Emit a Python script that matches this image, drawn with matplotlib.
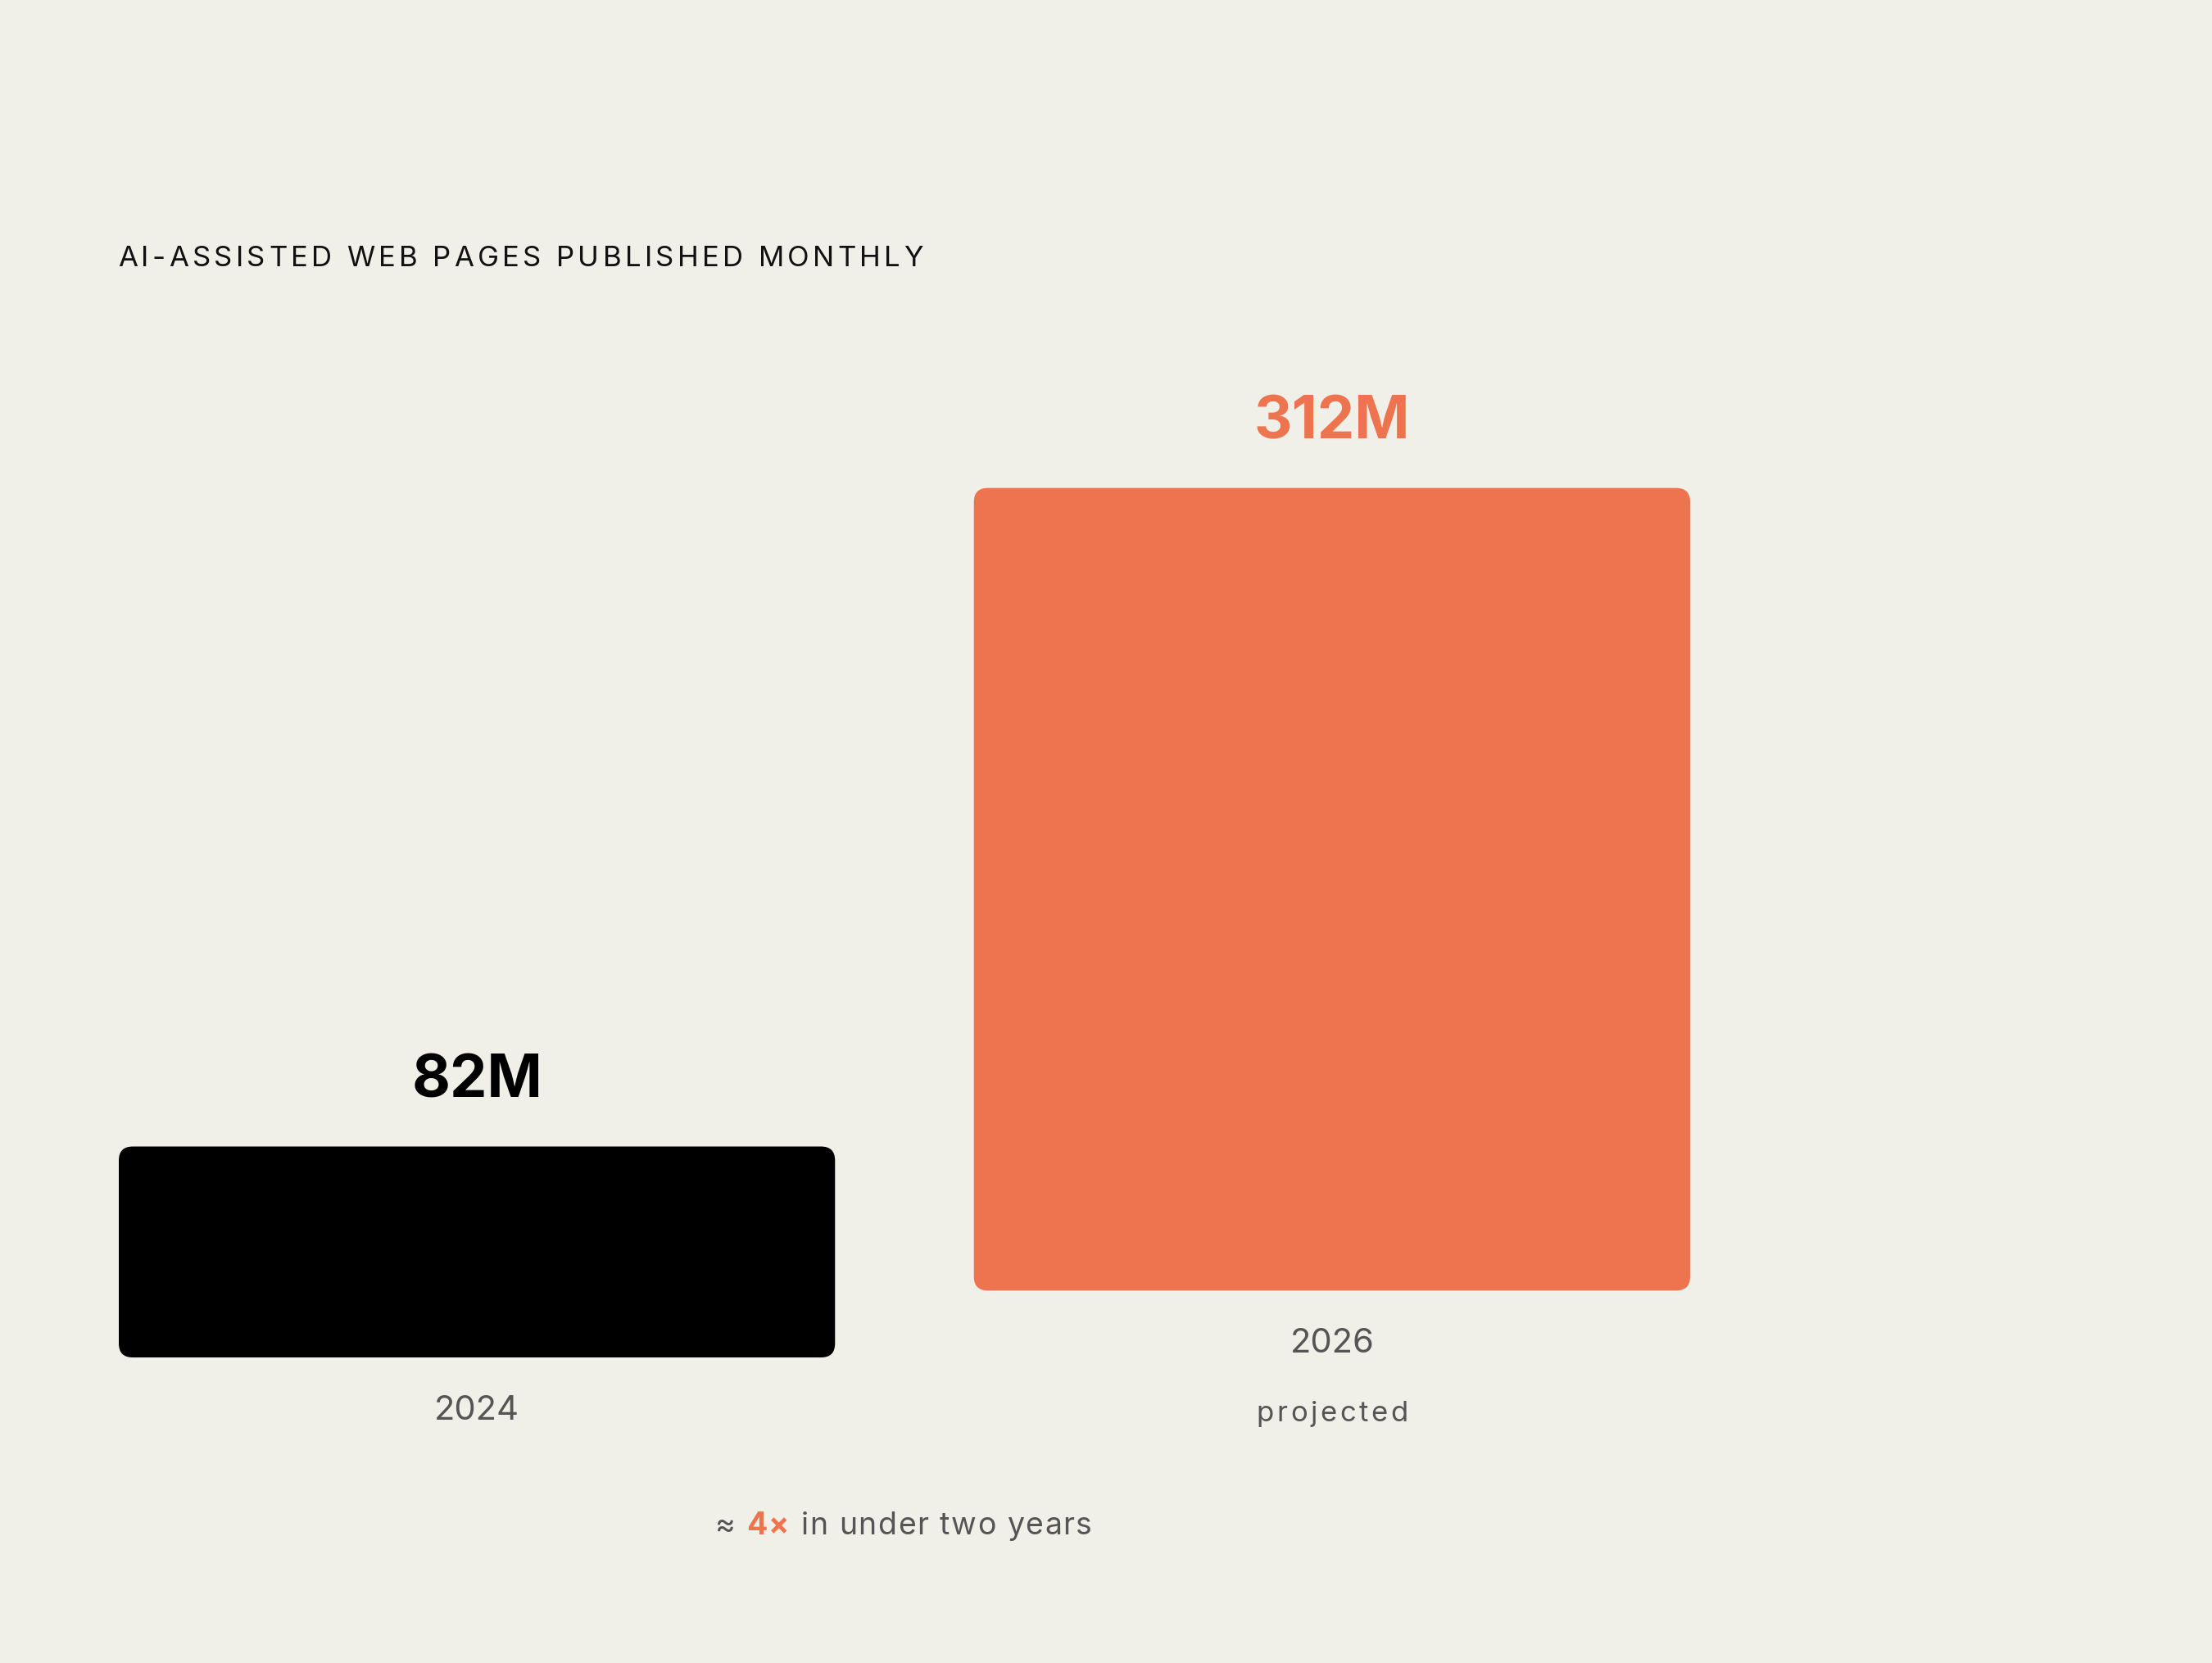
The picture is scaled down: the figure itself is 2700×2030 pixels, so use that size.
import matplotlib.pyplot as plt
from matplotlib.patches import FancyBboxPatch
from matplotlib.font_manager import FontProperties, findfont, get_font

# data
years = ['2024', '2026']
values = [82, 312]
value_labels = ['82M', '312M']
notes = ['', 'projected']
title = 'AI-ASSISTED WEB PAGES PUBLISHED MONTHLY'

BG = '#F0EFE8'
ORANGE = '#EE744F'
GREY = '#555555'
bar_colors = ['#000000', ORANGE]
label_colors = ['#000000', ORANGE]
FONT = 'Inter'

W, H, DPI = 2700, 2031, 200
fig = plt.figure(figsize=(W / DPI, H / DPI), dpi=DPI, facecolor=BG)


def advance(ch, fp):
    f = get_font(findfont(fp))
    f.set_size(fp.get_size_in_points(), DPI)
    return f.load_char(ord(ch)).linearHoriAdvance / 65536


def tracked(runs, x_px, y_px, width_px=None, tracking=0.0, ha='left'):
    # runs: list of (text, size, weight, color); draws char by char with letter spacing
    chars = []
    for s, size, weight, color in runs:
        fp = FontProperties(family=FONT, size=size, weight=weight)
        for ch in s:
            chars.append((ch, fp, color, advance(ch, fp)))
    natural = sum(c[3] for c in chars)
    if width_px is not None:
        tracking = (width_px - natural) / (len(chars) - 1)
    total = natural + tracking * (len(chars) - 1)
    x = x_px - (total / 2 if ha == 'center' else 0)
    for ch, fp, color, adv in chars:
        fig.text(x / W, 1 - y_px / H, ch, fontproperties=fp, color=color,
                 ha='left', va='baseline')
        x += adv + tracking


# bars: axes placed so value scale is ~3.14 px per M
px_per_m = 3.14
ax_left, ax_right, ax_base, ax_top = 145, 2063, 1658, 300
ax = fig.add_axes([ax_left / W, (H - ax_base) / H,
                   (ax_right - ax_left) / W, (ax_base - ax_top) / H])
ax.set_facecolor('none')
ax.axis('off')
bar_w = 0.8376
ax.set_xlim(-bar_w / 2, 1 + bar_w / 2)
ax.set_ylim(0, (ax_base - ax_top) / px_per_m)
raise_m = [0, 26]  # projected bar sits a little higher

bars = ax.bar(range(len(values)), values, width=bar_w, bottom=raise_m,
              color=bar_colors)
x_per_px = (1 + bar_w) / (ax_right - ax_left)
y_per_px = 1 / px_per_m
for b in bars:
    b.set_visible(False)
    ax.add_patch(FancyBboxPatch((b.get_x(), b.get_y()), b.get_width(), b.get_height(),
                                boxstyle=f'round,pad=0,rounding_size={17 * x_per_px}',
                                mutation_aspect=y_per_px / x_per_px,
                                fc=b.get_facecolor(), ec='none'))

for i, b in enumerate(bars):
    cx = b.get_x() + b.get_width() / 2
    top = b.get_y() + b.get_height()
    bottom = b.get_y()
    ax.annotate(value_labels[i], (cx, top), xytext=(0, 22), textcoords='offset points',
                ha='center', va='baseline', fontsize=26, fontweight='bold',
                family=FONT, color=label_colors[i])
    ax.annotate(years[i], (cx, bottom), xytext=(0, -27), textcoords='offset points',
                ha='center', va='baseline', fontsize=15, family=FONT, color=GREY)

# "projected" note under 2026
b = bars[1]
nx = b.get_x() + b.get_width() / 2
px_x, px_y = ax.transData.transform((nx, b.get_y()))
tracked([(notes[1], 12.5, 'normal', GREY)], px_x, H - px_y + 159, width_px=185, ha='center')

# title
tracked([(title, 12.5, 'normal', '#111111')], 144, 325, width_px=983)

# footnote
tracked([('≈ ', 13.5, 'normal', GREY), ('4×', 13.5, 'bold', ORANGE),
         (' in under two years', 13.5, 'normal', GREY)],
        1103, 1873, width_px=460, ha='center')

fig.savefig('out.png', dpi=DPI, facecolor=BG)
